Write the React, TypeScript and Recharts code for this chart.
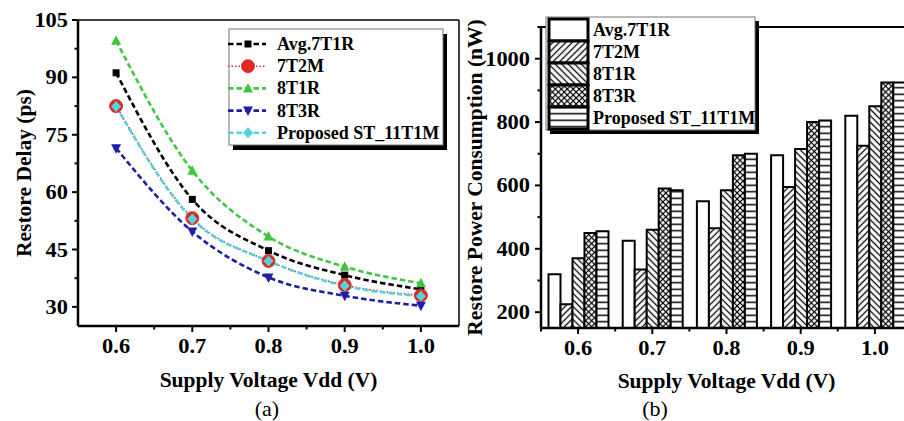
import React from 'react';
import { LineChart, Line, XAxis, YAxis, BarChart, Bar, ReferenceLine, Label } from 'recharts';

// ---------- data ----------
const voltages = [0.6, 0.7, 0.8, 0.9, 1.0];
const voltageLabels = ['0.6', '0.7', '0.8', '0.9', '1.0'];
const seriesNames = ['Avg.7T1R', '7T2M', '8T1R', '8T3R', 'Proposed ST_11T1M'];

// (a) Restore delay (ps)
const delayAvg7T1R = [91.2, 58.1, 44.7, 38.3, 34.6];
const delay7T2M = [82.5, 53.2, 42.0, 35.7, 33.0];
const delay8T1R = [99.6, 65.6, 48.4, 40.5, 36.2];
const delay8T3R = [71.5, 49.7, 37.7, 32.9, 30.3];
const delayProposed = [82.4, 53.0, 42.0, 35.5, 32.8];

// (b) Restore power consumption (nW)
const powerAvg7T1R = [320, 425, 550, 695, 820];
const power7T2M = [225, 335, 465, 595, 725];
const power8T1R = [370, 460, 585, 715, 850];
const power8T3R = [450, 590, 695, 800, 925];
const powerProposed = [455, 585, 700, 805, 925];

// ticks
const delayXTicks = [0.6, 0.65, 0.7, 0.75, 0.8, 0.85, 0.9, 0.95, 1.0];
const delayYTicks = [30, 37.5, 45, 52.5, 60, 67.5, 75, 82.5, 90, 97.5, 105];
const powerYTicks = [200, 300, 400, 500, 600, 700, 800, 900, 1000, 1100];

const delayData = voltages.map((v, i) => ({
  v,
  avg: delayAvg7T1R[i],
  t7t2m: delay7T2M[i],
  t8t1r: delay8T1R[i],
  t8t3r: delay8T3R[i],
  prop: delayProposed[i],
}));

const powerData = voltageLabels.map((c, i) => ({
  cat: c,
  avg: powerAvg7T1R[i],
  t7t2m: power7T2M[i],
  t8t1r: power8T1R[i],
  t8t3r: power8T3R[i],
  prop: powerProposed[i],
}));

// ---------- styles ----------
const FONT = '"Liberation Serif", "Times New Roman", serif';
const GREEN = '#3fc83f';
const BLUE = '#1e1eaa';
const CYAN = '#52d4de';
const RED = '#e3261e';
const REDLINE = '#c83a3a';

const lineKeys = ['avg', 't7t2m', 't8t1r', 't8t3r', 'prop'];
const lineColors = ['#000000', REDLINE, GREEN, BLUE, CYAN];
const lineDash = ['5.5 3', '1.5 2', '5.5 3', '5.5 3', '5.5 3'];
const lineWidths = [2.6, 1.6, 2.6, 2.6, 2.6];
const markerKinds = ['square', 'circle', 'up', 'down', 'diamond'];

const barKeys = ['avg', 't7t2m', 't8t1r', 't8t3r', 'prop'];
const barFills = ['#ffffff', 'url(#hatchFwd)', 'url(#hatchBack)', 'url(#hatchCross)', 'url(#hatchHoriz)'];

function Marker({ kind, cx, cy }: { kind: string; cx: number; cy: number }) {
  if (cx == null || cy == null) return null;
  switch (kind) {
    case 'square':
      return <rect x={cx - 3.5} y={cy - 3.5} width={7} height={7} fill="#000" />;
    case 'circle':
      return <circle cx={cx} cy={cy} r={6.5} fill={RED} stroke="#c84040" strokeWidth={1} />;
    case 'up':
      return <polygon points={`${cx},${cy - 5.5} ${cx - 5},${cy + 4} ${cx + 5},${cy + 4}`} fill={GREEN} />;
    case 'down':
      return <polygon points={`${cx - 5},${cy - 4} ${cx + 5},${cy - 4} ${cx},${cy + 5.5}`} fill={BLUE} />;
    case 'diamond':
      return <polygon points={`${cx},${cy - 5.5} ${cx + 5},${cy} ${cx},${cy + 5.5} ${cx - 5},${cy}`} fill={CYAN} />;
    default:
      return null;
  }
}

const near = (a: number, b: number) => Math.abs(a - b) < 1e-6;

// tick label text, slightly widened like the reference's heavy serif digits
function TickText({ x, y, anchor, children }: { x: number; y: number; anchor: string; children: any }) {
  return (
    <text
      x={0}
      y={0}
      transform={`translate(${x},${y}) scale(1.12,1)`}
      textAnchor={anchor}
      fontFamily={FONT}
      fontWeight="bold"
      fontSize={20}
      fill="#000"
    >
      {children}
    </text>
  );
}

function DelayXTick(props: any) {
  const { x, y, payload } = props;
  const v = payload.value as number;
  const major = voltages.some((m) => near(m, v));
  return (
    <g>
      <line x1={x} y1={y} x2={x} y2={y + (major ? 6 : 3.5)} stroke="#000" strokeWidth={2} />
      {major && <TickText x={x} y={y + 27} anchor="middle">{v.toFixed(1)}</TickText>}
    </g>
  );
}

function DelayYTick(props: any) {
  const { x, y, payload } = props;
  const v = payload.value as number;
  const major = near(v % 15, 0);
  return (
    <g>
      <line x1={x} y1={y} x2={x - (major ? 6 : 3.5)} y2={y} stroke="#000" strokeWidth={2} />
      {major && <TickText x={x - 10} y={y + 7} anchor="end">{v}</TickText>}
    </g>
  );
}

function PowerXTick(props: any) {
  const { x, y, payload, width, visibleTicksCount, index } = props;
  const half = width && visibleTicksCount ? width / visibleTicksCount / 2 : 37.1;
  return (
    <g>
      <line x1={x} y1={y} x2={x} y2={y + 6} stroke="#000" strokeWidth={2} />
      <line x1={x - half} y1={y} x2={x - half} y2={y + 3.5} stroke="#000" strokeWidth={2} />
      {index === (visibleTicksCount || 5) - 1 && (
        <line x1={x + half} y1={y} x2={x + half} y2={y + 3.5} stroke="#000" strokeWidth={2} />
      )}
      <TickText x={x} y={y + 27} anchor="middle">{payload.value}</TickText>
    </g>
  );
}

function PowerYTick(props: any) {
  const { x, y, payload } = props;
  const v = payload.value as number;
  const major = v % 200 === 0;
  return (
    <g>
      <line x1={x} y1={y} x2={x - (major ? 6 : 3.5)} y2={y} stroke="#000" strokeWidth={2} />
      {major && <TickText x={x - 11} y={y + 7} anchor="end">{v}</TickText>}
    </g>
  );
}

function Patterns() {
  return (
    <svg width={0} height={0} style={{ position: 'absolute', left: 0, top: 0 }}>
      <defs>
        <pattern id="hatchFwd" patternUnits="userSpaceOnUse" width={4.6} height={4.6} patternTransform="rotate(45)">
          <rect width={4.6} height={4.6} fill="#fff" />
          <line x1={2.3} y1={0} x2={2.3} y2={4.6} stroke="#000" strokeWidth={1.3} />
        </pattern>
        <pattern id="hatchBack" patternUnits="userSpaceOnUse" width={4.6} height={4.6} patternTransform="rotate(-45)">
          <rect width={4.6} height={4.6} fill="#fff" />
          <line x1={2.3} y1={0} x2={2.3} y2={4.6} stroke="#000" strokeWidth={1.3} />
        </pattern>
        <pattern id="hatchCross" patternUnits="userSpaceOnUse" width={4.2} height={4.2} patternTransform="rotate(45)">
          <rect width={4.2} height={4.2} fill="#fff" />
          <line x1={2.1} y1={0} x2={2.1} y2={4.2} stroke="#000" strokeWidth={1.2} />
          <line x1={0} y1={2.1} x2={4.2} y2={2.1} stroke="#000" strokeWidth={1.2} />
        </pattern>
        <pattern id="hatchHoriz" patternUnits="userSpaceOnUse" width={6.5} height={6.5}>
          <rect width={6.5} height={6.5} fill="#fff" />
          <line x1={0} y1={3.25} x2={6.5} y2={3.25} stroke="#000" strokeWidth={1.5} />
        </pattern>
      </defs>
    </svg>
  );
}

function LegendA() {
  const x0 = 229, y0 = 29, w = 214, h = 116;
  return (
    <g>
      <rect x={x0 + 4} y={y0 + 5} width={w} height={h} fill="#000" />
      <rect x={x0} y={y0} width={w} height={h} fill="#fff" stroke="#777" strokeWidth={1} />
      {seriesNames.map((name, i) => {
        const cy = 44 + i * 22.2;
        return (
          <g key={name}>
            <line x1={228} y1={cy} x2={266} y2={cy} stroke={lineColors[i]} strokeWidth={lineWidths[i]} strokeDasharray={lineDash[i]} />
            <Marker kind={markerKinds[i]} cx={248} cy={cy} />
            <text x={277} y={cy + 6} fontFamily={FONT} fontWeight="bold" fontSize={18} fill="#000">
              {name}
            </text>
          </g>
        );
      })}
    </g>
  );
}

function LegendB() {
  const x0 = 546, y0 = 17, w = 209, h = 113;
  return (
    <g>
      <rect x={x0 + 4} y={y0 + 4} width={w} height={h} fill="#000" />
      <rect x={x0} y={y0} width={w} height={h} fill="#fff" stroke="#777" strokeWidth={1} />
      {seriesNames.map((name, i) => {
        const top = 19 + i * 22;
        return (
          <g key={name}>
            <rect x={549} y={top} width={39} height={22} fill={barFills[i]} stroke="#000" strokeWidth={3} />
            <text x={593} y={top + 11 + 6} fontFamily={FONT} fontWeight="bold" fontSize={18} fill="#000">
              {name}
            </text>
          </g>
        );
      })}
    </g>
  );
}

export default function App() {
  return (
    <div style={{ position: 'fixed', left: 0, top: 0, width: 904, height: 421, overflow: 'hidden', background: '#fff' }}>
      <Patterns />
      <div style={{ position: 'absolute', left: 0, top: 0 }}>
        <LineChart width={462} height={421} data={delayData} margin={{ top: 20, right: 3, bottom: 30, left: 0 }}>
          <XAxis
            type="number"
            dataKey="v"
            domain={[0.55, 1.05]}
            ticks={delayXTicks}
            interval={0}
            tickSize={0}
            tickMargin={0}
            tickLine={false}
            axisLine={{ stroke: '#000', strokeWidth: 2.5 }}
            tick={DelayXTick}
            height={65}
            allowDataOverflow
          >
            <Label
              value="Supply Voltage Vdd (V)"
              position="insideBottom"
              offset={4}
              style={{ fontFamily: FONT, fontWeight: 'bold', fontSize: 21.5, fill: '#000' }}
            />
          </XAxis>
          <YAxis
            type="number"
            domain={[25, 105]}
            ticks={delayYTicks}
            interval={0}
            tickSize={0}
            tickMargin={0}
            tickLine={false}
            axisLine={{ stroke: '#000', strokeWidth: 2.5 }}
            tick={DelayYTick}
            width={78}
            allowDataOverflow
          >
            <Label
              value="Restore Delay (ps)"
              position="insideLeft"
              angle={-90}
              offset={23}
              style={{ textAnchor: 'middle', fontFamily: FONT, fontWeight: 'bold', fontSize: 21.5, fill: '#000' }}
            />
          </YAxis>
          <ReferenceLine y={105} stroke="#000" strokeWidth={1.5} />
          <ReferenceLine x={1.05} stroke="#000" strokeWidth={1.5} />
          {lineKeys.map((k, i) => (
            <Line
              key={k}
              type="monotone"
              dataKey={k}
              name={seriesNames[i]}
              stroke={lineColors[i]}
              strokeWidth={lineWidths[i]}
              strokeDasharray={lineDash[i]}
              isAnimationActive={false}
              activeDot={false}
              dot={(p: any) => (
                <g key={`${k}-${p.index}`}>
                  <Marker kind={markerKinds[i]} cx={p.cx} cy={p.cy} />
                </g>
              )}
            />
          ))}
        </LineChart>
      </div>
      <div style={{ position: 'absolute', left: 452, top: 0 }}>
        <BarChart
          width={470}
          height={421}
          data={powerData}
          margin={{ top: 27, right: 10, bottom: 28, left: 0 }}
          barCategoryGap={7.5}
          barGap={0}
        >
          <XAxis
            dataKey="cat"
            interval={0}
            tickSize={0}
            tickMargin={0}
            tickLine={false}
            axisLine={{ stroke: '#000', strokeWidth: 2.5 }}
            tick={PowerXTick}
            height={65}
          >
            <Label
              value="Supply Voltage Vdd (V)"
              position="insideBottom"
              offset={5}
              style={{ fontFamily: FONT, fontWeight: 'bold', fontSize: 21.5, fill: '#000' }}
            />
          </XAxis>
          <YAxis
            type="number"
            domain={[150, 1100]}
            ticks={powerYTicks}
            interval={0}
            tickSize={0}
            tickMargin={0}
            tickLine={false}
            axisLine={{ stroke: '#000', strokeWidth: 2.5 }}
            tick={PowerYTick}
            width={89}
            allowDataOverflow
          >
            <Label
              value="Restore Power Consumption (nW)"
              position="insideLeft"
              angle={-90}
              offset={22}
              style={{ textAnchor: 'middle', fontFamily: FONT, fontWeight: 'bold', fontSize: 21.5, fill: '#000' }}
            />
          </YAxis>
          <ReferenceLine y={1100} stroke="#000" strokeWidth={2} />
          {barKeys.map((k, i) => (
            <Bar
              key={k}
              dataKey={k}
              name={seriesNames[i]}
              fill={barFills[i]}
              stroke="#000"
              strokeWidth={2}
              isAnimationActive={false}
            />
          ))}
        </BarChart>
      </div>
      <svg width={904} height={421} style={{ position: 'absolute', left: 0, top: 0, pointerEvents: 'none' }}>
        <LegendA />
        <LegendB />
        <text x={267} y={416} textAnchor="middle" fontFamily={FONT} fontSize={22} fill="#000">(a)</text>
        <text x={655} y={416} textAnchor="middle" fontFamily={FONT} fontSize={22} fill="#000">(b)</text>
      </svg>
    </div>
  );
}
